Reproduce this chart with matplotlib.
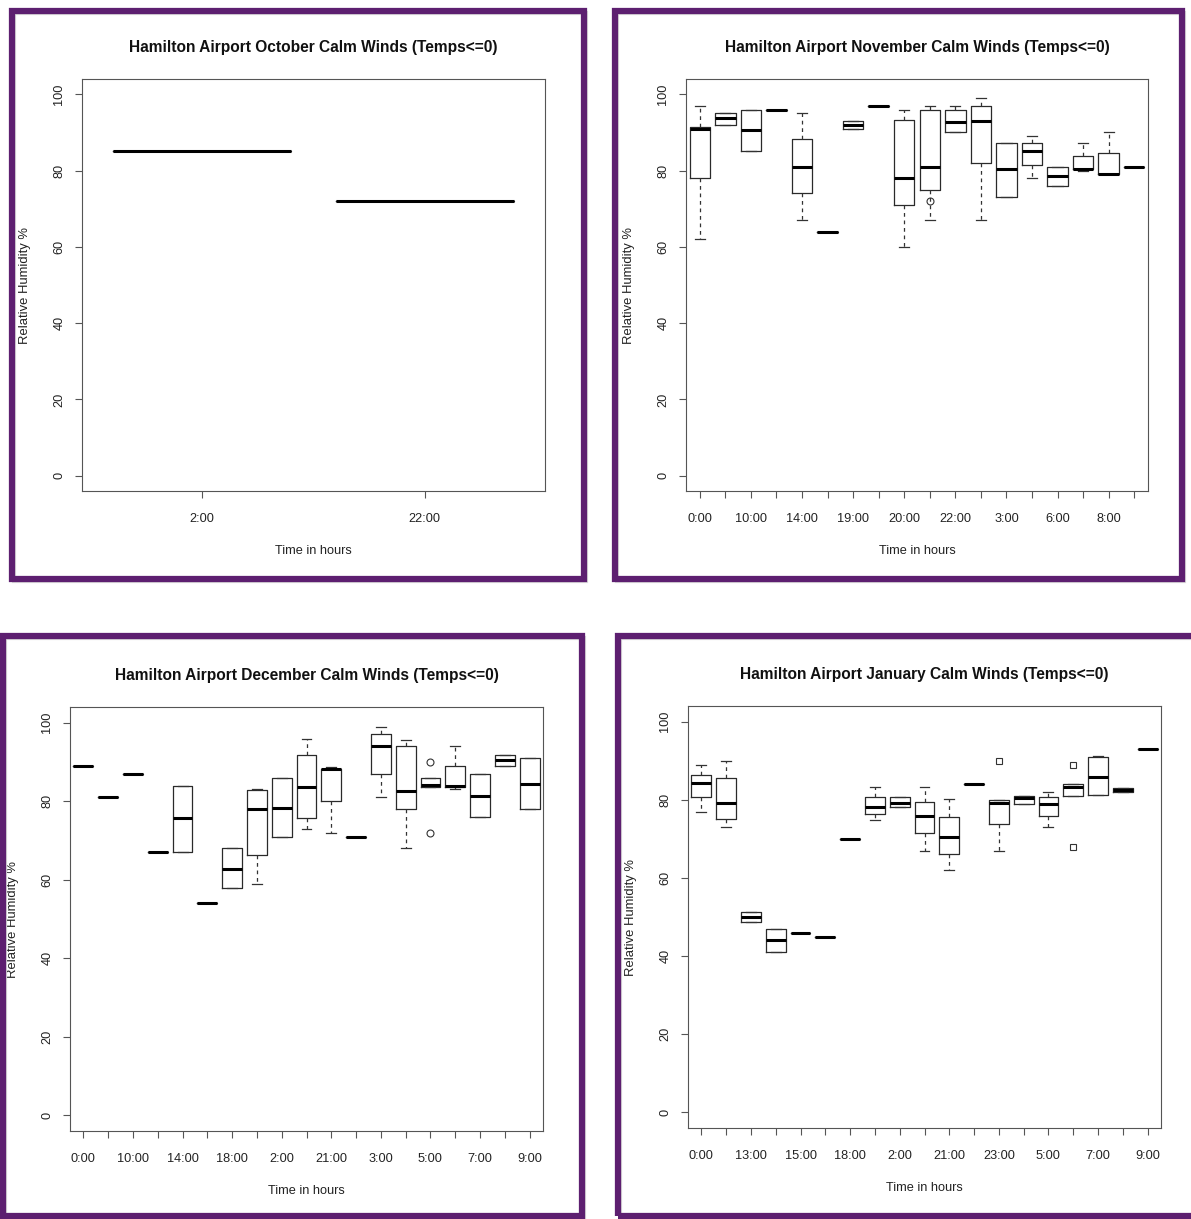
import numpy as np
import matplotlib.pyplot as plt
from matplotlib.patches import Rectangle

plt.rcParams['font.family'] = ['Liberation Sans', 'DejaVu Sans']

W, H = 1191, 1219
PURPLE = '#5d1f70'

# ---- data (relative humidity %, per hour group) ----
oct_hours = ['2:00', '22:00']
oct_lo = [85, 72]
oct_q1 = [85, 72]
oct_med = [85, 72]
oct_q3 = [85, 72]
oct_hi = [85, 72]
oct_out = [[], []]

nov_hours = ['0:00', '1:00', '10:00', '13:00', '14:00', '18:00', '19:00', '2:00', '20:00',
             '21:00', '22:00', '23:00', '3:00', '5:00', '6:00', '7:00', '8:00', '9:00']
nov_lo = [62, 92, 85, 96, 67, 64, 91, 97, 60, 67, 90, 67, 73, 78, 76, 80, 79, 81]
nov_q1 = [78, 92, 85, 96, 74, 64, 91, 97, 71, 75, 90, 82, 73, 81.5, 76, 80.3, 79, 81]
nov_med = [91, 93.7, 90.7, 96, 81, 64, 92, 97, 78, 81, 92.6, 93, 80.3, 85, 78.5, 80.3, 79.1, 81]
nov_q3 = [91.5, 95.2, 96, 96, 88.3, 64, 93, 97, 93.2, 96, 96, 97, 87.2, 87.2, 81, 83.7, 84.6, 81]
nov_hi = [97, 95.2, 96, 96, 95, 64, 93, 97, 96, 97, 97, 99, 87.2, 89, 81, 87.2, 90, 81]
nov_out = [[], [], [], [], [], [], [], [], [], [72], [], [], [], [], [], [], [], []]

dec_hours = ['0:00', '1:00', '10:00', '13:00', '14:00', '17:00', '18:00', '19:00', '2:00', '20:00',
             '21:00', '23:00', '3:00', '4:00', '5:00', '6:00', '7:00', '8:00', '9:00']
dec_lo = [89, 81, 87, 67, 67, 54, 58, 59, 71, 73, 72, 71, 81, 68, 83.7, 83.2, 76, 89, 78]
dec_q1 = [89, 81, 87, 67, 67, 54, 58, 66.4, 71, 75.8, 80, 71, 87, 78, 83.7, 83.5, 76, 89, 78]
dec_med = [89, 81, 87, 67, 75.6, 54, 62.8, 78, 78.4, 83.5, 88.1, 71, 94, 82.6, 84.1, 83.9, 81.4, 90.5, 84.3]
dec_q3 = [89, 81, 87, 67, 84, 54, 68, 82.8, 86, 91.9, 88.3, 71, 97, 94, 86, 88.9, 86.9, 91.9, 91.1]
dec_hi = [89, 81, 87, 67, 84, 54, 68, 83, 86, 95.8, 88.8, 71, 99, 95.7, 86, 94, 86.9, 91.9, 91.1]
dec_out = [[], [], [], [], [], [], [], [], [], [], [], [], [], [], [90, 72], [], [], [], []]

jan_hours = ['0:00', '1:00', '13:00', '14:00', '15:00', '16:00', '18:00', '19:00', '2:00', '20:00',
             '21:00', '22:00', '23:00', '3:00', '5:00', '6:00', '7:00', '8:00', '9:00']
jan_lo = [77, 73.1, 48.8, 41, 46, 45, 70, 74.9, 78.1, 67, 62.1, 84, 67, 78.9, 73.1, 80.9, 81.1, 82.1, 93]
jan_q1 = [80.6, 75.1, 48.8, 41, 46, 45, 70, 76.4, 78.1, 71.4, 66.1, 84, 73.8, 78.9, 75.9, 80.9, 81.1, 82.1, 93]
jan_med = [84.2, 79.1, 49.9, 44.1, 46, 45, 70, 78.1, 79.1, 75.9, 70.6, 84, 79.1, 80.4, 78.9, 83.2, 85.9, 82.5, 93]
jan_q3 = [86.4, 85.6, 51.2, 46.9, 46, 45, 70, 80.6, 80.6, 79.5, 75.5, 84, 79.9, 80.9, 80.6, 84, 90.9, 82.9, 93]
jan_hi = [88.9, 90, 51.2, 46.9, 46, 45, 70, 83.2, 80.6, 83.2, 80.2, 84, 79.9, 80.9, 81.9, 84, 91.1, 82.9, 93]
jan_out = [[], [], [], [], [], [], [], [], [], [], [], [], [90], [], [], [89, 68], [], [], []]

fig = plt.figure(figsize=(W / 100, H / 100), dpi=100)


def px_rect(x0, y0, x1, y1):
    # pixel box (top-left origin) -> figure fraction [left, bottom, width, height]
    return [x0 / W, 1 - y1 / H, (x1 - x0) / W, (y1 - y0) / H]


def frame(x0, y0, x1, y1):
    fig.patches.append(Rectangle((x0 / W + 0.002, 1 - y1 / H - 0.002), (x1 - x0) / W, (y1 - y0) / H,
                                 transform=fig.transFigure, fill=False, ec='#dadada', lw=3))
    fig.patches.append(Rectangle((x0 / W, 1 - y1 / H), (x1 - x0) / W, (y1 - y0) / H,
                                 transform=fig.transFigure, fill=False, ec=PURPLE, lw=4.5))


def panel(box, title, hours, lo, q1, med, q3, hi, out, fmarker='o'):
    ax = fig.add_axes(px_rect(*box))
    n = len(hours)
    stats = [dict(whislo=lo[i], q1=q1[i], med=med[i], q3=q3[i], whishi=hi[i], fliers=out[i])
             for i in range(n)]
    ax.bxp(stats, positions=np.arange(1, n + 1), widths=0.8, capwidths=0.4,
           boxprops=dict(color='#2a2a2a', lw=0.9),
           medianprops=dict(color='black', lw=2.2, solid_capstyle='butt'),
           whiskerprops=dict(color='#333333', lw=0.9, linestyle=(0, (3, 3))),
           capprops=dict(color='#333333', lw=0.9),
           flierprops=dict(marker=fmarker, mfc='none', mec='#333333', ms=5, mew=0.8))
    ax.set_xlim(0.46, n + 0.54)
    ax.set_ylim(-4, 104)
    ax.set_yticks(np.arange(0, 101, 20))
    ax.set_xticks(np.arange(1, n + 1))
    ax.set_xticklabels(hours)
    # like R, only every other hour label fits under the crowded axes
    if n > 2:
        for i, lbl in enumerate(ax.get_xticklabels()):
            lbl.set_visible(i % 2 == 0)
    ax.tick_params(direction='out', length=5, width=0.8, color='#555555', labelsize=9.2,
                   labelcolor='#222222')
    ax.tick_params(axis='x', pad=11)
    ax.tick_params(axis='y', pad=7, labelrotation=90)
    for lbl in ax.get_yticklabels():
        lbl.set_va('center')
    for s in ax.spines.values():
        s.set_color('#555555')
        s.set_linewidth(0.8)
    ax.annotate(title, xy=(0.5, 1), xycoords='axes fraction', xytext=(0, 23),
                textcoords='offset points', ha='center', va='center',
                fontsize=11.2, fontweight='bold', color='#111111')
    ax.annotate('Time in hours', xy=(0.5, 0), xycoords='axes fraction', xytext=(0, -43),
                textcoords='offset points', ha='center', va='center', fontsize=9.2, color='#222222')
    ax.annotate('Relative Humidity %', xy=(0, 0.5), xycoords='axes fraction', xytext=(-41, 0),
                textcoords='offset points', ha='center', va='center', rotation=90,
                fontsize=9.4, color='#222222')
    return ax


frame(12, 11, 584, 579)
frame(615, 11, 1182, 579)
frame(3, 636, 582, 1216)
frame(618, 636, 1198, 1216)

panel((82, 79, 545, 491), 'Hamilton Airport October Calm Winds (Temps<=0)',
      oct_hours, oct_lo, oct_q1, oct_med, oct_q3, oct_hi, oct_out)
panel((686, 79, 1148, 491), 'Hamilton Airport November Calm Winds (Temps<=0)',
      nov_hours, nov_lo, nov_q1, nov_med, nov_q3, nov_hi, nov_out)
panel((70, 707, 543, 1131), 'Hamilton Airport December Calm Winds (Temps<=0)',
      dec_hours, dec_lo, dec_q1, dec_med, dec_q3, dec_hi, dec_out)
panel((688, 706, 1161, 1128), 'Hamilton Airport January Calm Winds (Temps<=0)',
      jan_hours, jan_lo, jan_q1, jan_med, jan_q3, jan_hi, jan_out, fmarker='s')

fig.savefig('out.png', dpi=100)
